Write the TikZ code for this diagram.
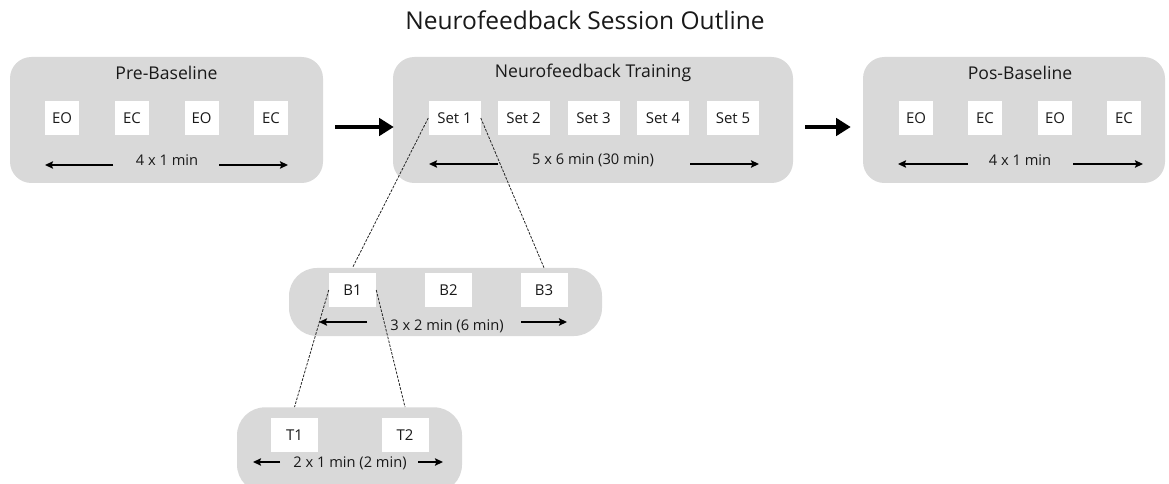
\documentclass[tikz,border=0pt]{standalone}
\usepackage{fontspec}
\setmainfont{Open Sans}
\usetikzlibrary{arrows.meta}

\definecolor{phasegray}{RGB}{217,217,217}
\definecolor{txtgray}{RGB}{25,25,25}

\tikzset{
  phase/.style={fill=phasegray, rounded corners=16pt, inner sep=0pt},
  phasetitle/.style={font=\fontsize{13.2}{15}\selectfont, text=txtgray},
  item/.style={fill=white, inner sep=0pt, minimum height=25.5pt, font=\fontsize{11.2}{13}\selectfont, text=txtgray},
  lenlabel/.style={font=\fontsize{11}{13}\selectfont, text=txtgray, inner sep=1pt},
  dimarrow/.style={line width=1.1pt, -{Stealth[length=6pt, width=5.5pt, inset=1pt]}},
  bigarrow/.style={line width=3pt, -{Triangle[length=11pt, width=13pt]}},
  zoomline/.style={black!85, line width=0.6pt, dash pattern=on 2pt off 1pt}
}

\begin{document}
\begin{tikzpicture}[x=0.75pt, y=-0.75pt]
  \useasboundingbox (0,0) rectangle (1169,484);
  \node[font=\fontsize{18.4}{21}\selectfont, text=txtgray] (title) at (585,20) {Neurofeedback Session Outline};

  % phases
  \node[phase, minimum width=234.75pt, minimum height=94.5pt] (pre) at (166.5,120) {};
  \node[phase, minimum width=300pt, minimum height=94.5pt] (nft) at (593,120) {};
  \node[phase, minimum width=226.5pt, minimum height=94.5pt] (pos) at (1014,120) {};
  \node[phase, minimum width=234.75pt, minimum height=51pt, rounded corners=21pt] (blk) at (445.5,302) {};
  \node[phase, minimum width=168.75pt, minimum height=64pt, rounded corners=21pt] (trl) at (349.5,450) {};

  \node[phasetitle] (pretitle) at (166.5,73) {Pre-Baseline};
  \node[phasetitle] (nfttitle) at (593,73) {Neurofeedback Training};
  \node[phasetitle] (postitle) at (1020,73) {Pos-Baseline};

  % pre-baseline
  \node[item, minimum width=25.5pt] (preeo1) at (62,118) {EO};
  \node[item, minimum width=25.5pt] (preec1) at (132,118) {EC};
  \node[item, minimum width=25.5pt] (preeo2) at (201.5,118) {EO};
  \node[item, minimum width=25.5pt] (preec2) at (271,118) {EC};
  \node[lenlabel] (prelen) at (167,160) {4 x 1 min};
  \draw[dimarrow] (113,165) -- (45,165);
  \draw[dimarrow] (219,165) -- (288,165);

  % training
  \node[item, minimum width=39pt] (set1) at (454.5,118) {Set 1};
  \node[item, minimum width=39pt] (set2) at (523.5,118) {Set 2};
  \node[item, minimum width=39pt] (set3) at (593.5,118) {Set 3};
  \node[item, minimum width=39pt] (set4) at (663,118) {Set 4};
  \node[item, minimum width=39pt] (set5) at (733,118) {Set 5};
  \node[lenlabel] (nftlen) at (593,160) {5 x 6 min (30 min)};
  \draw[dimarrow] (498,164) -- (429,164);
  \draw[dimarrow] (690,164) -- (759,164);

  % pos-baseline
  \node[item, minimum width=25.5pt] (poseo1) at (916,118) {EO};
  \node[item, minimum width=25.5pt] (posec1) at (985,118) {EC};
  \node[item, minimum width=25.5pt] (poseo2) at (1055,118) {EO};
  \node[item, minimum width=25.5pt] (posec2) at (1124,118) {EC};
  \node[lenlabel] (poslen) at (1020,160) {4 x 1 min};
  \draw[dimarrow] (968,164) -- (898,164);
  \draw[dimarrow] (1073,164) -- (1143,164);

  \draw[bigarrow] ([yshift=-5.25pt]pre.east) -- ([yshift=-5.25pt]nft.west)
    [shorten <=9pt, shorten >=-0.75pt];
  \draw[bigarrow] ([yshift=-5.25pt]nft.east) -- ([yshift=-5.25pt]pos.west)
    [shorten <=9pt, shorten >=9pt];

  % blocks
  \node[item, minimum width=35.25pt] (b1) at (352.5,290) {B1};
  \node[item, minimum width=35.25pt] (b2) at (448.5,290) {B2};
  \node[item, minimum width=35.25pt] (b3) at (544,290) {B3};
  \node[lenlabel] (blklen) at (447,326) {3 x 2 min (6 min)};
  \draw[dimarrow] (367,322) -- (319,322);
  \draw[dimarrow] (521,322) -- (567,322);

  % trials
  \node[item, minimum width=35.25pt] (t1) at (294.5,435) {T1};
  \node[item, minimum width=35.25pt] (t2) at (405,435) {T2};
  \node[lenlabel] (trllen) at (350,463) {2 x 1 min (2 min)};
  \draw[dimarrow] (280,462) -- (253,462);
  \draw[dimarrow] (418,462) -- (443,462);

  % zoom lines
  \draw[zoomline] (set1.west) -- (b1 |- blk.north);
  \draw[zoomline] (set1.east) -- (b3 |- blk.north);
  \draw[zoomline] (b1.west) -- (t1 |- trl.north);
  \draw[zoomline] (b1.east) -- (t2 |- trl.north);
\end{tikzpicture}
\end{document}
